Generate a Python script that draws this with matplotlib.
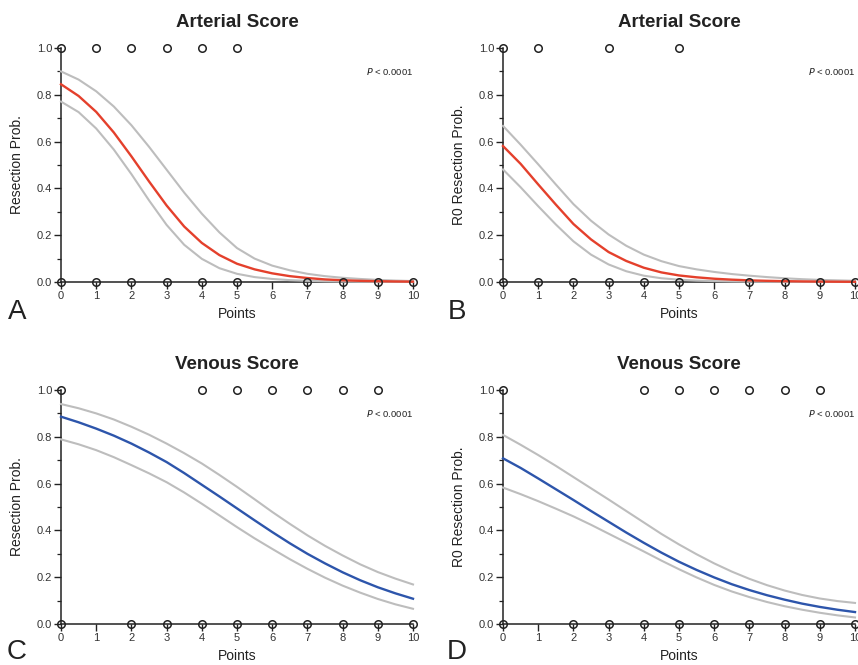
import matplotlib
matplotlib.use("Agg")
import matplotlib.pyplot as plt
from matplotlib.ticker import MultipleLocator

plt.rcParams['font.family'] = ['Liberation Sans', 'DejaVu Sans']

# ---------------- data ----------------
x_grid = [0, 0.5, 1, 1.5, 2, 2.5, 3, 3.5, 4, 4.5, 5, 5.5, 6, 6.5, 7, 7.5, 8, 8.5, 9, 9.5, 10]

# Panel A: Arterial score, resection
a_fit   = [0.845, 0.795, 0.727, 0.639, 0.537, 0.43, 0.327, 0.237, 0.167, 0.115, 0.078, 0.054, 0.037, 0.025, 0.017, 0.011, 0.0075, 0.005, 0.0034, 0.0022, 0.0015]
a_upper = [0.90, 0.865, 0.815, 0.75, 0.67, 0.578, 0.48, 0.382, 0.292, 0.212, 0.145, 0.10, 0.07, 0.05, 0.035, 0.025, 0.018, 0.013, 0.009, 0.006, 0.004]
a_lower = [0.771, 0.726, 0.656, 0.566, 0.461, 0.349, 0.244, 0.159, 0.099, 0.059, 0.035, 0.021, 0.013, 0.008, 0.005, 0.003, 0.002, 0.0012, 0.0008, 0.0005, 0.0003]
a_top_pts = [0, 1, 2, 3, 4, 5]
a_bot_pts = [0, 1, 2, 3, 4, 5, 7, 8, 9, 10]

# Panel B: Arterial score, R0 resection
b_fit   = [0.581, 0.505, 0.417, 0.331, 0.248, 0.182, 0.128, 0.09, 0.061, 0.041, 0.028, 0.02, 0.014, 0.01, 0.007, 0.005, 0.0035, 0.0025, 0.0017, 0.0012, 0.0008]
b_upper = [0.667, 0.587, 0.503, 0.417, 0.333, 0.262, 0.203, 0.155, 0.117, 0.089, 0.068, 0.054, 0.043, 0.034, 0.027, 0.021, 0.016, 0.012, 0.009, 0.007, 0.005]
b_lower = [0.481, 0.405, 0.324, 0.246, 0.174, 0.117, 0.075, 0.046, 0.027, 0.016, 0.01, 0.006, 0.004, 0.0025, 0.0015, 0.001, 0.0006, 0.0004, 0.0003, 0.0002, 0.0001]
b_top_pts = [0, 1, 3, 5]
b_bot_pts = [0, 1, 2, 3, 4, 5, 7, 8, 9, 10]

# Panel C: Venous score, resection
c_fit   = [0.886, 0.862, 0.835, 0.805, 0.771, 0.733, 0.692, 0.645, 0.595, 0.545, 0.494, 0.443, 0.393, 0.345, 0.30, 0.259, 0.221, 0.187, 0.157, 0.131, 0.108]
c_upper = [0.94, 0.922, 0.90, 0.874, 0.843, 0.809, 0.771, 0.73, 0.686, 0.637, 0.586, 0.533, 0.479, 0.428, 0.379, 0.334, 0.293, 0.255, 0.222, 0.194, 0.169]
c_lower = [0.789, 0.768, 0.743, 0.713, 0.679, 0.644, 0.606, 0.562, 0.514, 0.464, 0.414, 0.366, 0.321, 0.277, 0.236, 0.198, 0.164, 0.134, 0.107, 0.084, 0.065]
c_top_pts = [0, 4, 5, 6, 7, 8, 9]
c_bot_pts = [0, 2, 3, 4, 5, 6, 7, 8, 9, 10]

# Panel D: Venous score, R0 resection
d_fit   = [0.708, 0.667, 0.622, 0.576, 0.53, 0.483, 0.437, 0.391, 0.347, 0.305, 0.266, 0.231, 0.199, 0.17, 0.145, 0.123, 0.104, 0.087, 0.073, 0.061, 0.051]
d_upper = [0.808, 0.766, 0.722, 0.676, 0.628, 0.58, 0.532, 0.483, 0.434, 0.385, 0.34, 0.298, 0.259, 0.224, 0.193, 0.166, 0.143, 0.124, 0.109, 0.098, 0.09]
d_lower = [0.583, 0.555, 0.525, 0.493, 0.46, 0.424, 0.386, 0.348, 0.31, 0.271, 0.234, 0.199, 0.167, 0.139, 0.115, 0.094, 0.076, 0.061, 0.048, 0.037, 0.028]
d_top_pts = [0, 4, 5, 6, 7, 8, 9]
d_bot_pts = [0, 2, 3, 4, 5, 6, 7, 8, 9, 10]

titles = ["Arterial Score", "Arterial Score", "Venous Score", "Venous Score"]
ylabels = ["Resection Prob.", "R0 Resection Prob.", "Resection Prob.", "R0 Resection Prob."]
letters = ["A", "B", "C", "D"]
p_text = "< 0.0001"
x_ticks = list(range(11))
y_ticks = [0.0, 0.2, 0.4, 0.6, 0.8, 1.0]

RED = "#e4402c"
BLUE = "#2d55ab"
GRAY = "#bdbdbd"
INK = "#222222"

fig = plt.figure(figsize=(8.58, 6.65), dpi=100)

W = 858.0
H = 665.0
panels = [
    (a_fit, a_upper, a_lower, a_top_pts, a_bot_pts, RED, (61, 48)),
    (b_fit, b_upper, b_lower, b_top_pts, b_bot_pts, RED, (503, 48)),
    (c_fit, c_upper, c_lower, c_top_pts, c_bot_pts, BLUE, (61, 390)),
    (d_fit, d_upper, d_lower, d_top_pts, d_bot_pts, BLUE, (503, 390)),
]
AW, AH = 352.0, 234.0

for i, (fit, up, lo, top, bot, col, (px, py)) in enumerate(panels):
    ax = fig.add_axes([px / W, 1 - (py + AH) / H, AW / W, AH / H])
    ax.set_xlim(0, 10)
    ax.set_ylim(0, 1.0)
    for s in ["top", "right"]:
        ax.spines[s].set_visible(False)
    for s in ["left", "bottom"]:
        ax.spines[s].set_color(INK)
        ax.spines[s].set_linewidth(1.1)
        ax.spines[s].set_zorder(1)

    ax.plot(x_grid, up, color=GRAY, lw=1.5, zorder=2, clip_on=False)
    ax.plot(x_grid, lo, color=GRAY, lw=1.5, zorder=2, clip_on=False)
    ax.plot(x_grid, fit, color=col, lw=1.7, zorder=3, clip_on=False)

    ax.plot(top, [1.0] * len(top), linestyle="none", marker="o", ms=5.4,
            mfc="none", mec=INK, mew=1.1, zorder=4, clip_on=False)
    ax.plot(bot, [0.0] * len(bot), linestyle="none", marker="o", ms=5.4,
            mfc="none", mec=INK, mew=1.1, zorder=4, clip_on=False)

    ax.set_xticks(x_ticks)
    ax.set_yticks(y_ticks)
    ax.set_yticklabels([f"{v:.1f}" for v in y_ticks])
    ax.yaxis.set_minor_locator(MultipleLocator(0.1))
    ax.tick_params(axis="both", which="major", direction="out", length=5,
                   width=1.0, color=INK, labelsize=8, labelcolor="#333333", pad=1.5)
    ax.tick_params(axis="y", which="minor", direction="out", length=3,
                   width=0.9, color=INK)

    ax.set_xlabel("Points", fontsize=10, color=INK, labelpad=4)
    ax.set_ylabel(ylabels[i], fontsize=10, color=INK, labelpad=9)
    ax.set_title(titles[i], fontsize=13.5, fontweight="bold", color=INK, pad=15)

    ax.text(10, 0.9, r"$\it{P}$ " + p_text, fontsize=6.8, ha="right", va="center",
            color=INK)

    lx = 17 if i % 2 == 0 else 457
    ly = 312 if i < 2 else 652
    fig.text(lx / W, 1 - ly / H, letters[i], fontsize=20, ha="center", va="center",
             color=INK)

fig.savefig("out.png", dpi=100)
